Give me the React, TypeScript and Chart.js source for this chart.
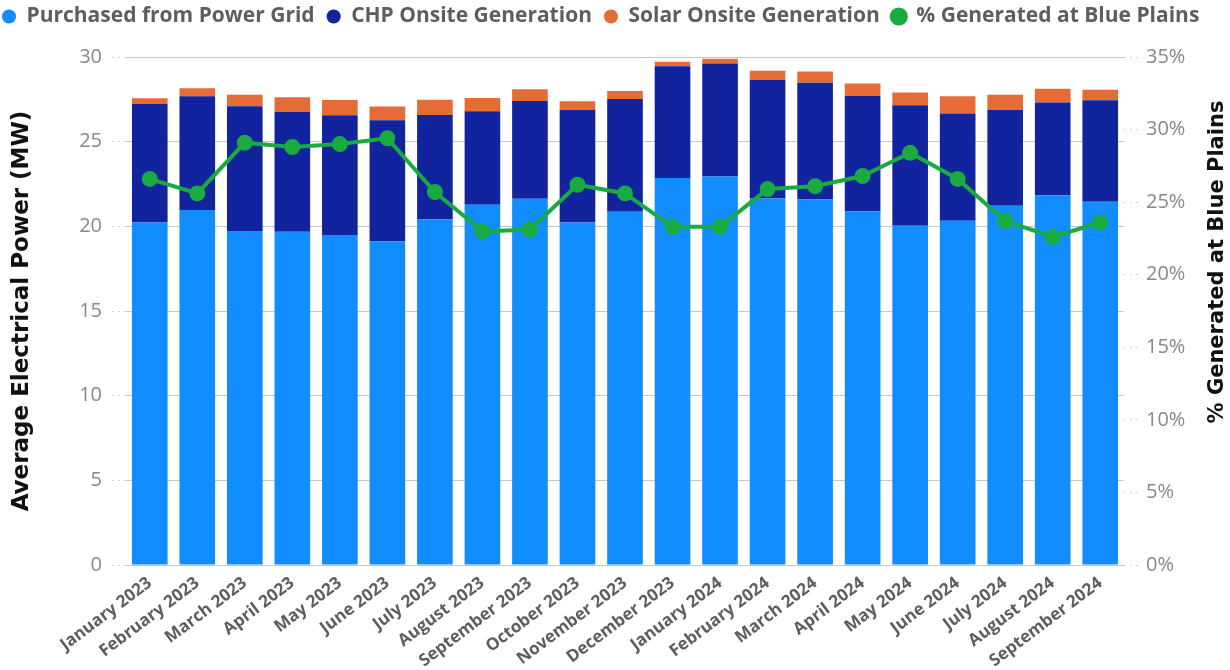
import React, { useEffect, useRef } from "react";
import { Chart, registerables } from "chart.js";

Chart.register(...registerables);

const months = [
  "January 2023", "February 2023", "March 2023", "April 2023", "May 2023", "June 2023",
  "July 2023", "August 2023", "September 2023", "October 2023", "November 2023", "December 2023",
  "January 2024", "February 2024", "March 2024", "April 2024", "May 2024", "June 2024",
  "July 2024", "August 2024", "September 2024",
];

const purchasedFromGrid = [
  20.23, 20.96, 19.72, 19.68, 19.49, 19.1, 20.41, 21.27, 21.63, 20.23, 20.86,
  22.86, 22.94, 21.65, 21.59, 20.88, 20.03, 20.33, 21.21, 21.82, 21.45,
];

const chpOnsite = [
  7.01, 6.72, 7.37, 7.09, 7.07, 7.16, 6.17, 5.52, 5.77, 6.64, 6.66,
  6.59, 6.68, 6.99, 6.89, 6.82, 7.12, 6.33, 5.66, 5.5, 5.99,
];

const solarOnsite = [
  0.32, 0.47, 0.68, 0.85, 0.9, 0.81, 0.9, 0.79, 0.69, 0.51, 0.47,
  0.27, 0.28, 0.55, 0.67, 0.74, 0.76, 1.02, 0.9, 0.81, 0.63,
];

const pctGenerated = [
  26.6, 25.6, 29.1, 28.8, 29.0, 29.4, 25.7, 23.0, 23.1, 26.2, 25.6,
  23.3, 23.3, 25.9, 26.1, 26.8, 28.4, 26.6, 23.7, 22.6, 23.6,
];

const leftTicks = [0, 5, 10, 15, 20, 25, 30];
const rightTicks = [0, 5, 10, 15, 20, 25, 30, 35];

const leftTitle = "Average Electrical Power (MW)";
const rightTitle = "% Generated at Blue Plains";

const UI_FONT = "'Open Sans', 'Noto Sans', sans-serif";
const TITLE_FONT = "'DejaVu Sans', 'Liberation Sans', Arial, sans-serif";
const GRID_COLOR = "#c8c6c4";

const layoutPlugin = {
  id: "layoutTweaks",
  beforeInit(chart: any) {
    const legend = chart.legend;
    if (legend) {
      const origFit = legend.fit;
      legend.fit = function () {
        origFit.call(this);
        this.height += 14;
      };
      const origDraw = legend.draw;
      legend.draw = function () {
        const ctx = this.ctx;
        ctx.save();
        ctx.translate(-10, -6);
        origDraw.call(this);
        ctx.restore();
      };
    }
  },
  afterDraw(chart: any) {
    const ctx = chart.ctx;
    ctx.save();
    ctx.translate(1218, 262);
    ctx.rotate(-Math.PI / 2);
    ctx.fillStyle = "#111111";
    ctx.font = `bold 21px ${TITLE_FONT}`;
    ctx.textAlign = "center";
    ctx.textBaseline = "middle";
    ctx.fillText(rightTitle, 0, 0);
    ctx.restore();
  },
};

export default function App() {
  const canvasRef = useRef<HTMLCanvasElement | null>(null);

  useEffect(() => {
    if (!canvasRef.current) return;
    const chart = new Chart(canvasRef.current, {
      type: "bar",
      data: {
        labels: months,
        datasets: [
          {
            type: "bar",
            label: "Purchased from Power Grid",
            data: purchasedFromGrid,
            backgroundColor: "#118DFF",
            yAxisID: "y",
            order: 2,
            barPercentage: 0.75,
            categoryPercentage: 1,
          },
          {
            type: "bar",
            label: "CHP Onsite Generation",
            data: chpOnsite,
            backgroundColor: "#12239E",
            yAxisID: "y",
            order: 2,
            barPercentage: 0.75,
            categoryPercentage: 1,
          },
          {
            type: "bar",
            label: "Solar Onsite Generation",
            data: solarOnsite,
            backgroundColor: "#E66C37",
            yAxisID: "y",
            order: 2,
            barPercentage: 0.75,
            categoryPercentage: 1,
          },
          {
            type: "line",
            label: rightTitle,
            data: pctGenerated,
            borderColor: "#1AAB40",
            backgroundColor: "#1AAB40",
            pointBackgroundColor: "#1AAB40",
            pointBorderColor: "#1AAB40",
            borderWidth: 4,
            pointRadius: 6,
            tension: 0,
            yAxisID: "y1",
            order: 0,
          } as any,
        ],
      },
      options: {
        responsive: false,
        animation: false,
        layout: { padding: { left: 0, right: 0, top: 0, bottom: 0 } },
        plugins: {
          tooltip: { enabled: false },
          legend: {
            position: "top",
            align: "start",
            labels: {
              usePointStyle: true,
              pointStyle: "circle",
              boxWidth: 14,
              boxHeight: 10,
              padding: 12,
              color: "#605E5C",
              font: { family: UI_FONT, size: 21, weight: "bold" },
              sort: (a: any, b: any) => a.datasetIndex - b.datasetIndex,
            },
          },
        },
        scales: {
          x: {
            stacked: true,
            grid: { display: false },
            border: { display: false },
            ticks: {
              autoSkip: false,
              minRotation: 37,
              maxRotation: 37,
              color: "#605E5C",
              font: { family: UI_FONT, size: 17, weight: "bold" },
              padding: 0,
            },
            afterFit: (scale: any) => {
              scale.height = 105;
            },
          },
          y: {
            stacked: true,
            position: "left",
            min: 0,
            max: 30,
            afterBuildTicks: (scale: any) => {
              scale.ticks = leftTicks.map((v) => ({ value: v }));
            },
            grid: {
              color: GRID_COLOR,
              lineWidth: 1,
              borderDash: [1.5, 4.5],
              tickBorderDash: [1.5, 4.5],
              tickColor: GRID_COLOR,
              tickLength: 14,
            },
            border: { display: false },
            ticks: {
              color: "#8a8886",
              font: { family: UI_FONT, size: 20 },
              padding: 10,
            },
            title: {
              display: true,
              text: leftTitle,
              color: "#111111",
              font: { family: TITLE_FONT, size: 23, weight: "bold" },
              padding: { top: 8, bottom: 0 },
            },
            afterFit: (scale: any) => {
              scale.width = 126;
            },
          },
          y1: {
            position: "right",
            min: 0,
            max: 35,
            afterBuildTicks: (scale: any) => {
              scale.ticks = rightTicks.map((v) => ({ value: v }));
            },
            grid: {
              drawOnChartArea: false,
              color: GRID_COLOR,
              tickBorderDash: [1.5, 4.5],
              tickColor: GRID_COLOR,
              tickLength: 16,
            },
            border: { display: false },
            ticks: {
              color: "#8a8886",
              font: { family: UI_FONT, size: 20 },
              padding: 6,
              callback: (v: any) => `${v}%`,
            },
            title: { display: false },
            afterFit: (scale: any) => {
              scale.width = 106;
            },
          },
        },
      },
      plugins: [layoutPlugin],
    });
    return () => chart.destroy();
  }, []);

  return (
    <div style={{ position: "absolute", left: 0, top: 0, width: 1230, height: 670, background: "#fff" }}>
      <canvas ref={canvasRef} width={1230} height={670} style={{ display: "block" }} />
    </div>
  );
}
